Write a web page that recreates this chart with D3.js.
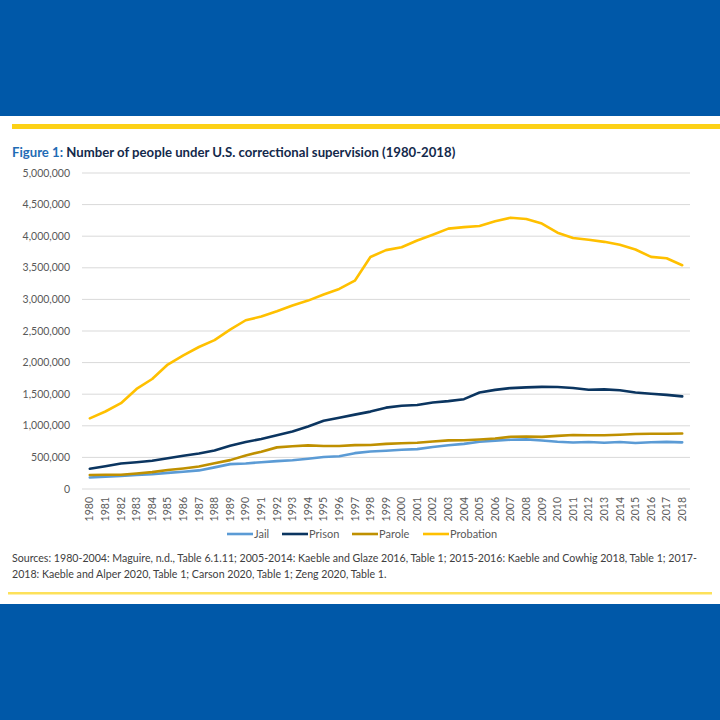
<!DOCTYPE html>
<html>
<head>
<meta charset="utf-8">
<script src="https://cdn.jsdelivr.net/npm/d3@7"></script>
<style>
  body { margin: 0; background: #ffffff; }
  svg { display: block; }
  text { font-family: Lato, "Open Sans", sans-serif; }
  .ylab, .xlab, .leg { fill: #595959; }
</style>
</head>
<body>
<div id="container"></div>
<script>
// ---------------- data ----------------
const years = d3.range(1980, 2019)
const yTicks = [0, 500000, 1000000, 1500000, 2000000, 2500000, 3000000, 3500000, 4000000, 4500000, 5000000]

const jail = [182288, 195085, 207853, 221815, 233018, 254986, 272735, 294092, 341893, 393303,
    403019, 424129, 441781, 455500, 479800, 507044, 518492, 567079, 592462, 605943,
    621149, 631240, 665475, 691301, 713990, 747529, 765819, 780174, 785533, 767434,
    748728, 735601, 744524, 731208, 744592, 728200, 740700, 745200, 738400]
const prison = [319598, 360029, 402914, 423898, 448264, 487593, 526436, 562814, 607766, 683367,
    743382, 792535, 850566, 909381, 990147, 1078542, 1127528, 1176564, 1224469, 1287172,
    1316333, 1330007, 1367547, 1390279, 1421345, 1525900, 1568200, 1596800, 1608300, 1615500,
    1613800, 1598800, 1570400, 1576900, 1562300, 1526600, 1506800, 1489600, 1465200]
const parole = [220438, 225539, 224604, 246440, 266992, 300203, 325638, 355505, 407977, 456803,
    531407, 590442, 658601, 676100, 690371, 679421, 679733, 694787, 696385, 714457,
    723898, 731147, 750934, 769925, 771852, 784408, 798202, 826097, 828169, 824115,
    840676, 853852, 851662, 849500, 857700, 870500, 874800, 874800, 878000]
const probation = [1118097, 1225934, 1357264, 1582947, 1740948, 1968712, 2114621, 2247158, 2356483, 2522125,
    2670234, 2728472, 2811611, 2903061, 2981022, 3077861, 3164996, 3296513, 3670441, 3779922,
    3826209, 3931731, 4024067, 4120012, 4143792, 4162536, 4237023, 4293163, 4271169, 4199295,
    4055514, 3971319, 3942776, 3910647, 3864100, 3789800, 3673100, 3650900, 3540000]

const seriesNames = ["Jail", "Prison", "Parole", "Probation"]
const seriesColors = ["#5b9bd5", "#0b3560", "#bf9000", "#ffc000"]

const sourcesLines = [
    "Sources: 1980-2004: Maguire, n.d., Table 6.1.11; 2005-2014: Kaeble and Glaze 2016, Table 1; 2015-2016: Kaeble and Cowhig 2018, Table 1; 2017-",
    "2018: Kaeble and Alper 2020, Table 1; Carson 2020, Table 1; Zeng 2020, Table 1."
]

// ---------------- layout ----------------
const width = 720, height = 720
const plot = { left: 82, right: 690, top: 173, bottom: 489 }

const svg = d3.select("#container").append("svg")
    .attr("width", width)
    .attr("height", height)

// shrink a text's font size until it spans the given width
function fitWidth(sel, target) {
    sel.each(function () {
        const len = this.getComputedTextLength()
        const size = parseFloat(d3.select(this).attr("font-size"))
        if (len > 0) d3.select(this).attr("font-size", size * target / len)
    })
}

// page frame: blue bands + yellow rules
svg.append("rect").attr("x", 0).attr("y", 0).attr("width", width).attr("height", 116).attr("fill", "#0058a8")
svg.append("rect").attr("x", 0).attr("y", 604).attr("width", width).attr("height", 116).attr("fill", "#0058a8")
svg.append("rect").attr("x", 12).attr("y", 124).attr("width", 708).attr("height", 5).attr("fill", "#fcd116")
svg.append("rect").attr("x", 8).attr("y", 592).attr("width", 704).attr("height", 2.5).attr("fill", "#fde15a")

// title
const title = svg.append("text")
    .attr("x", 12).attr("y", 157)
    .attr("font-size", 13.5).attr("font-weight", "bold")
title.append("tspan").attr("fill", "#1f6cb5").text("Figure 1: ")
title.append("tspan").attr("fill", "#13294b").text("Number of people under U.S. correctional supervision (1980-2018)")
fitWidth(title, 444)

// scales
const x = d3.scalePoint().domain(years).range([plot.left, plot.right]).padding(0.5)
const y = d3.scaleLinear().domain([0, 5000000]).range([plot.bottom, plot.top])

// gridlines
svg.append("g")
    .selectAll("line")
    .data(yTicks).enter()
    .append("line")
    .attr("x1", plot.left).attr("x2", plot.right)
    .attr("y1", d => y(d)).attr("y2", d => y(d))
    .attr("stroke", "#d9d9d9").attr("stroke-width", 1)

// y labels
svg.append("g")
    .selectAll("text")
    .data(yTicks).enter()
    .append("text")
    .attr("class", "ylab")
    .attr("x", 70).attr("y", d => y(d))
    .attr("dy", "0.35em")
    .attr("text-anchor", "end")
    .attr("font-size", 10.5)
    .text(d => d === 0 ? "0" : d3.format(",")(d))

// x labels (rotated)
svg.append("g")
    .selectAll("text")
    .data(years).enter()
    .append("text")
    .attr("class", "xlab")
    .attr("transform", d => `translate(${x(d)},${plot.bottom + 8}) rotate(-90)`)
    .attr("dy", "0.35em")
    .attr("text-anchor", "end")
    .attr("font-size", 10.5)
    .text(d => d)

// lines
const allSeries = [jail, prison, parole, probation]
const line = d3.line()
    .x((d, i) => x(years[i]))
    .y(d => y(d))

svg.append("g")
    .selectAll("path")
    .data(allSeries).enter()
    .append("path")
    .attr("d", line)
    .attr("fill", "none")
    .attr("stroke", (d, i) => seriesColors[i])
    .attr("stroke-width", 2.6)
    .attr("stroke-linejoin", "round")
    .attr("stroke-linecap", "round")

// legend
const legendX = [227, 282, 352, 423]
const legend = svg.append("g")
    .selectAll("g")
    .data(seriesNames).enter()
    .append("g")
    .attr("transform", (d, i) => `translate(${legendX[i]},534)`)
legend.append("line")
    .attr("x1", 0).attr("x2", 26)
    .attr("stroke", (d, i) => seriesColors[i])
    .attr("stroke-width", 2.6)
legend.append("text")
    .attr("class", "leg")
    .attr("x", 27).attr("dy", "0.35em")
    .attr("font-size", 11)
    .text(d => d)

// sources
const sources = svg.append("g")
    .selectAll("text")
    .data(sourcesLines).enter()
    .append("text")
    .attr("x", 12).attr("y", (d, i) => 562 + i * 16)
    .attr("font-size", 11)
    .attr("fill", "#404040")
    .text(d => d)
fitWidth(sources.filter((d, i) => i === 0), 686)
sources.filter((d, i) => i === 1).attr("font-size", sources.filter((d, i) => i === 0).attr("font-size"))
</script>
</body>
</html>
